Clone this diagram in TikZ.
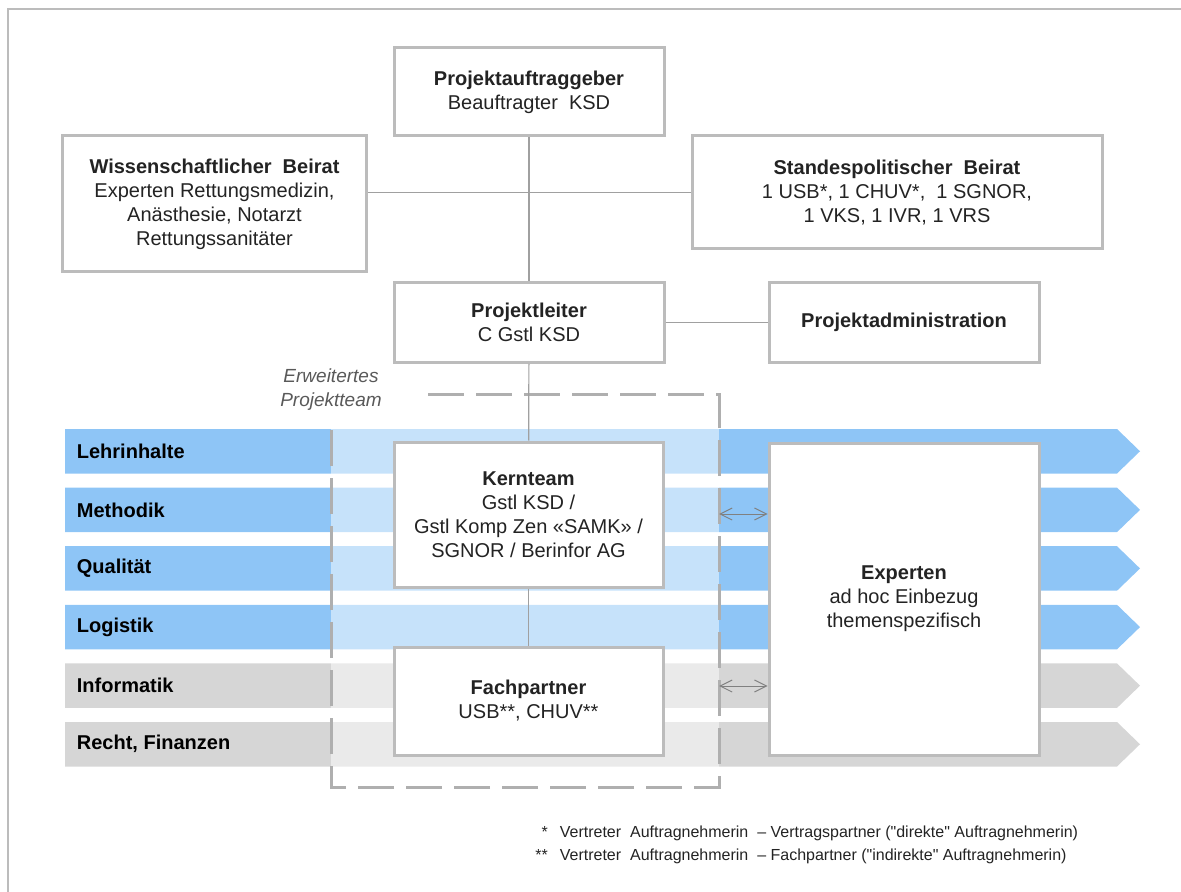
\documentclass[tikz,border=0pt]{standalone}
\usepackage{fontspec}
\setmainfont{Liberation Sans}
\usetikzlibrary{arrows.meta}

\definecolor{bandblue}{RGB}{142,197,246}
\definecolor{bandgray}{RGB}{214,214,214}
\definecolor{boxline}{RGB}{188,188,188}
\definecolor{linkgray}{RGB}{160,160,160}
\definecolor{teamgray}{RGB}{175,175,175}
\definecolor{textgray}{RGB}{35,35,35}

\tikzset{
  orgbox/.style={draw=boxline, line width=1.5pt, fill=white, align=center,
    text=textgray, inner sep=2pt, font=\fontsize{10}{12}\selectfont},
  link/.style={draw=linkgray, line width=0.6pt},
  bandlabel/.style={anchor=west, inner sep=0pt, font=\fontsize{10}{12}\selectfont\bfseries},
  teamline/.style={draw=teamgray, line width=1.5pt, dash pattern=on 18pt off 6pt},
  xarrow/.style={draw=gray, line width=0.5pt,
    {Straight Barb[length=6pt,width=6pt]}-{Straight Barb[length=6pt,width=6pt]}}
}

\begin{document}
\begin{tikzpicture}[x=0.5pt, y=-0.5pt]
    \useasboundingbox (0,0) rectangle (1181,892);

    % Frame
    \draw[boxline, line width=1pt] (7.5,892) |- (1181,9.5);

    % Bands
    \foreach \name/\col [count=\i from 0] in {Lehrinhalte/bandblue, Methodik/bandblue,
        Qualität/bandblue, Logistik/bandblue, Informatik/bandgray, {Recht, Finanzen}/bandgray} {
        \pgfmathsetmacro\bandtop{429+58.6*\i}
        \pgfmathsetmacro\bandbot{\bandtop+44.5}
        \pgfmathsetmacro\bandmid{\bandtop+22.25}
        \fill[\col] (65,\bandtop) -- (1117,\bandtop) -- (1140,\bandmid)
            -- (1117,\bandbot) -- (65,\bandbot) -- cycle;
        \node[bandlabel] (band\i) at (76.5,\bandmid) {\name};
    }

    % Erweitertes Projektteam
    \fill[white, opacity=0.5] (331,395) rectangle (719,787);
    \draw[teamline] (428,395) -| (719,787) -| (331,423);
    \node[align=center, inner sep=1pt, text=black!65, font=\fontsize{9.5}{12}\selectfont\itshape]
        (teamlabel) at (331,390) {Erweitertes\\Projektteam};

    % Nodes
    \node[orgbox, minimum width=135pt, minimum height=44pt] (auftrag) at (529,92)
        {\textbf{Projektauftraggeber}\\Beauftragter\ \ KSD};
    \node[orgbox, minimum width=152pt, minimum height=68pt] (wiss) at (214.5,204)
        {\textbf{Wissenschaftlicher\ \ Beirat}\\Experten Rettungsmedizin,\\Anästhesie, Notarzt\\Rettungssanitäter};
    \node[orgbox, minimum width=205pt, minimum height=56.5pt] (stand) at (897,192.5)
        {\textbf{Standespolitischer\ \ Beirat}\\1 USB*, 1 CHUV*, \ 1 SGNOR,\\1 VKS, 1 IVR, 1 VRS};
    \node[orgbox, minimum width=135pt, minimum height=40pt] (leiter) at (529,322.5)
        {\textbf{Projektleiter}\\C Gstl KSD};
    \node[orgbox, minimum width=135pt, minimum height=40pt] (admin) at (904,322.5)
        {\textbf{Projektadministration}};
    \node[orgbox, minimum width=134.5pt, minimum height=72.5pt] (kern) at (528.5,514.5)
        {\textbf{Kernteam}\\Gstl KSD /\\Gstl Komp Zen «SAMK» /\\SGNOR / Berinfor AG};
    \node[orgbox, minimum width=134.5pt, minimum height=54pt] (fach) at (528.5,701)
        {\textbf{Fachpartner}\\USB{*}{*}, CHUV{*}{*}};
    \node[orgbox, minimum width=135pt, minimum height=156pt] (experten) at (904,599)
        {\textbf{Experten}\\ad hoc Einbezug\\themenspezifisch};

    % Edges
    \draw[link] (auftrag) -- (leiter);
    \draw[link] (wiss.east |- stand.west) -- (stand.west);
    \draw[link] (leiter) -- (admin);
    \draw[link] (leiter) -- (kern);
    \draw[link] (kern) -- (fach);

    \coordinate (kernlink) at (719,514);
    \coordinate (fachlink) at (719,686);
    \draw[xarrow] (kernlink) -- (kernlink -| experten.west);
    \draw[xarrow] (fachlink) -- (fachlink -| experten.west);

    % Notes
    \node[anchor=west, inner sep=0pt, text=textgray, font=\fontsize{8}{11.5}\selectfont]
        (notes) at (535,844) {\begin{tabular}{@{}r@{\hspace{6pt}}l@{}}
        {*} & Vertreter \ Auftragnehmerin \ -- Vertragspartner (\textquotedbl direkte\textquotedbl\ Auftragnehmerin)\\
        {**} & Vertreter \ Auftragnehmerin \ -- Fachpartner (\textquotedbl indirekte\textquotedbl\ Auftragnehmerin)
        \end{tabular}};
\end{tikzpicture}
\end{document}
